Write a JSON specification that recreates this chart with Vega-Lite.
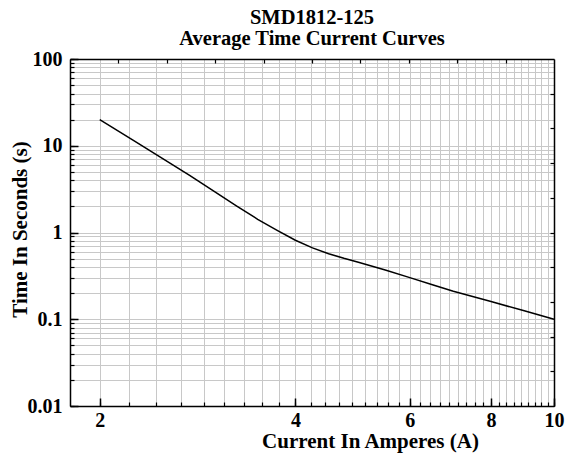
{
  "$schema": "https://vega.github.io/schema/vega-lite/v6.json",
  "autosize": "none",
  "padding": {"left": 70, "top": 59, "right": 14, "bottom": 53},
  "width": 484,
  "height": 347,
  "background": "white",
  "config": {
    "font": "Liberation Serif",
    "view": {"stroke": null},
    "axis": {"labelColor": "black", "titleColor": "black", "tickColor": "black", "domainColor": "black"}
  },
  "title": {
    "text": ["SMD1812-125", "Average Time Current Curves"],
    "font": "Liberation Serif",
    "fontSize": 20.5,
    "fontWeight": "bold",
    "color": "black",
    "anchor": "middle",
    "baseline": "alphabetic",
    "lineHeight": 21,
    "offset": -16
  },
  "data": {
    "values": [
      {"current": 2, "time": 20},
      {"current": 2.25, "time": 11.6},
      {"current": 2.5, "time": 7.1},
      {"current": 2.75, "time": 4.55},
      {"current": 3, "time": 2.97},
      {"current": 3.25, "time": 2.02},
      {"current": 3.5, "time": 1.42},
      {"current": 3.75, "time": 1.06},
      {"current": 4, "time": 0.815},
      {"current": 4.25, "time": 0.665},
      {"current": 4.5, "time": 0.57},
      {"current": 4.75, "time": 0.505},
      {"current": 5, "time": 0.455},
      {"current": 5.5, "time": 0.37},
      {"current": 6, "time": 0.302},
      {"current": 6.5, "time": 0.25},
      {"current": 7, "time": 0.21},
      {"current": 8, "time": 0.16},
      {"current": 9, "time": 0.125},
      {"current": 10, "time": 0.1}
    ]
  },
  "resolve": {"axis": {"x": "independent", "y": "independent"}},
  "layer": [
    {
      "mark": {"type": "line", "strokeOpacity": 0},
      "encoding": {
        "x": {"field": "current", "type": "quantitative",
          "scale": {"type": "log", "domain": [1.8, 10], "nice": false, "zero": false},
          "axis": {"orient": "bottom", "title": null, "labels": false, "domain": false,
            "grid": true, "gridColor": "#c8c8c8", "gridWidth": 1, "gridOpacity": 1,
            "tickSize": -4, "tickWidth": 1.2,
            "values": [2, 2.2222, 2.4444, 2.6667, 2.8889, 3.1111, 3.3333, 3.5556, 3.7778, 4, 4.2222, 4.4444, 4.6667, 4.8889, 5.1111, 5.3333, 5.5556, 5.7778, 6, 6.2222, 6.4444, 6.6667, 6.8889, 7.1111, 7.3333, 7.5556, 7.7778, 8, 8.2222, 8.4444, 8.6667, 8.8889, 9.1111, 9.3333, 9.5556, 9.7778, 10]}},
        "y": {"field": "time", "type": "quantitative",
          "scale": {"type": "log", "domain": [0.01, 100], "nice": false, "zero": false},
          "axis": {"orient": "left", "title": null, "labels": false, "domain": false,
            "grid": true, "gridColor": "#c8c8c8", "gridWidth": 1, "gridOpacity": 1,
            "tickSize": -4, "tickWidth": 1.2,
            "values": [0.01, 0.02, 0.03, 0.04, 0.05, 0.06, 0.07, 0.08, 0.09, 0.1, 0.2, 0.3, 0.4, 0.5, 0.6, 0.7, 0.8, 0.9, 1, 2, 3, 4, 5, 6, 7, 8, 9, 10, 20, 30, 40, 50, 60, 70, 80, 90, 100]}}
      }
    },
    {
      "mark": {"type": "line", "strokeOpacity": 0},
      "encoding": {
        "x": {"field": "current", "type": "quantitative",
          "axis": {"orient": "top", "title": null, "labels": false, "domain": true, "domainWidth": 1.5,
            "grid": false, "tickSize": -4, "tickWidth": 1.2, "zindex": 1,
            "values": [2.1367, 2.5364, 3.0109, 3.5741, 4.2427, 5.0364, 5.9785, 7.0969, 8.4245]}},
        "y": {"field": "time", "type": "quantitative",
          "axis": {"orient": "right", "title": null, "labels": false, "domain": true, "domainWidth": 1.5,
            "grid": false, "tickSize": -4, "tickWidth": 1.2, "zindex": 1,
            "values": [0.025119, 0.063096, 0.15849, 0.39811, 1, 2.5119, 6.3096, 15.849, 39.811]}}
      }
    },
    {
      "mark": {"type": "line", "color": "black", "strokeWidth": 1.5},
      "encoding": {
        "x": {"field": "current", "type": "quantitative",
          "axis": {"orient": "bottom", "title": "Current In Amperes (A)", "grid": false,
            "values": [2, 4, 6, 8, 10], "format": "~g",
            "domain": true, "domainWidth": 1.5, "zindex": 1,
            "tickSize": -8, "tickWidth": 1.5, "labelPadding": 12,
            "labelFont": "Liberation Serif", "labelFontSize": 20, "labelFontWeight": "bold",
            "labelFlush": false, "labelOverlap": false,
            "titleFont": "Liberation Serif", "titleFontSize": 21, "titleFontWeight": "bold",
            "titleX": 300, "titleY": 41, "titleAlign": "center", "titleBaseline": "alphabetic"}},
        "y": {"field": "time", "type": "quantitative",
          "axis": {"orient": "left", "title": "Time In Seconds (s)", "grid": false,
            "values": [0.01, 0.1, 1, 10, 100], "format": "~g",
            "domain": true, "domainWidth": 1.5, "zindex": 1,
            "tickSize": -8, "tickWidth": 1.5, "labelPadding": 16,
            "labelFont": "Liberation Serif", "labelFontSize": 20, "labelFontWeight": "bold",
            "labelFlush": false, "labelOverlap": false,
            "titleFont": "Liberation Serif", "titleFontSize": 21, "titleFontWeight": "bold",
            "titleAngle": -90, "titleX": -44, "titleY": 170, "titleAlign": "center", "titleBaseline": "alphabetic"}}
      }
    }
  ]
}
